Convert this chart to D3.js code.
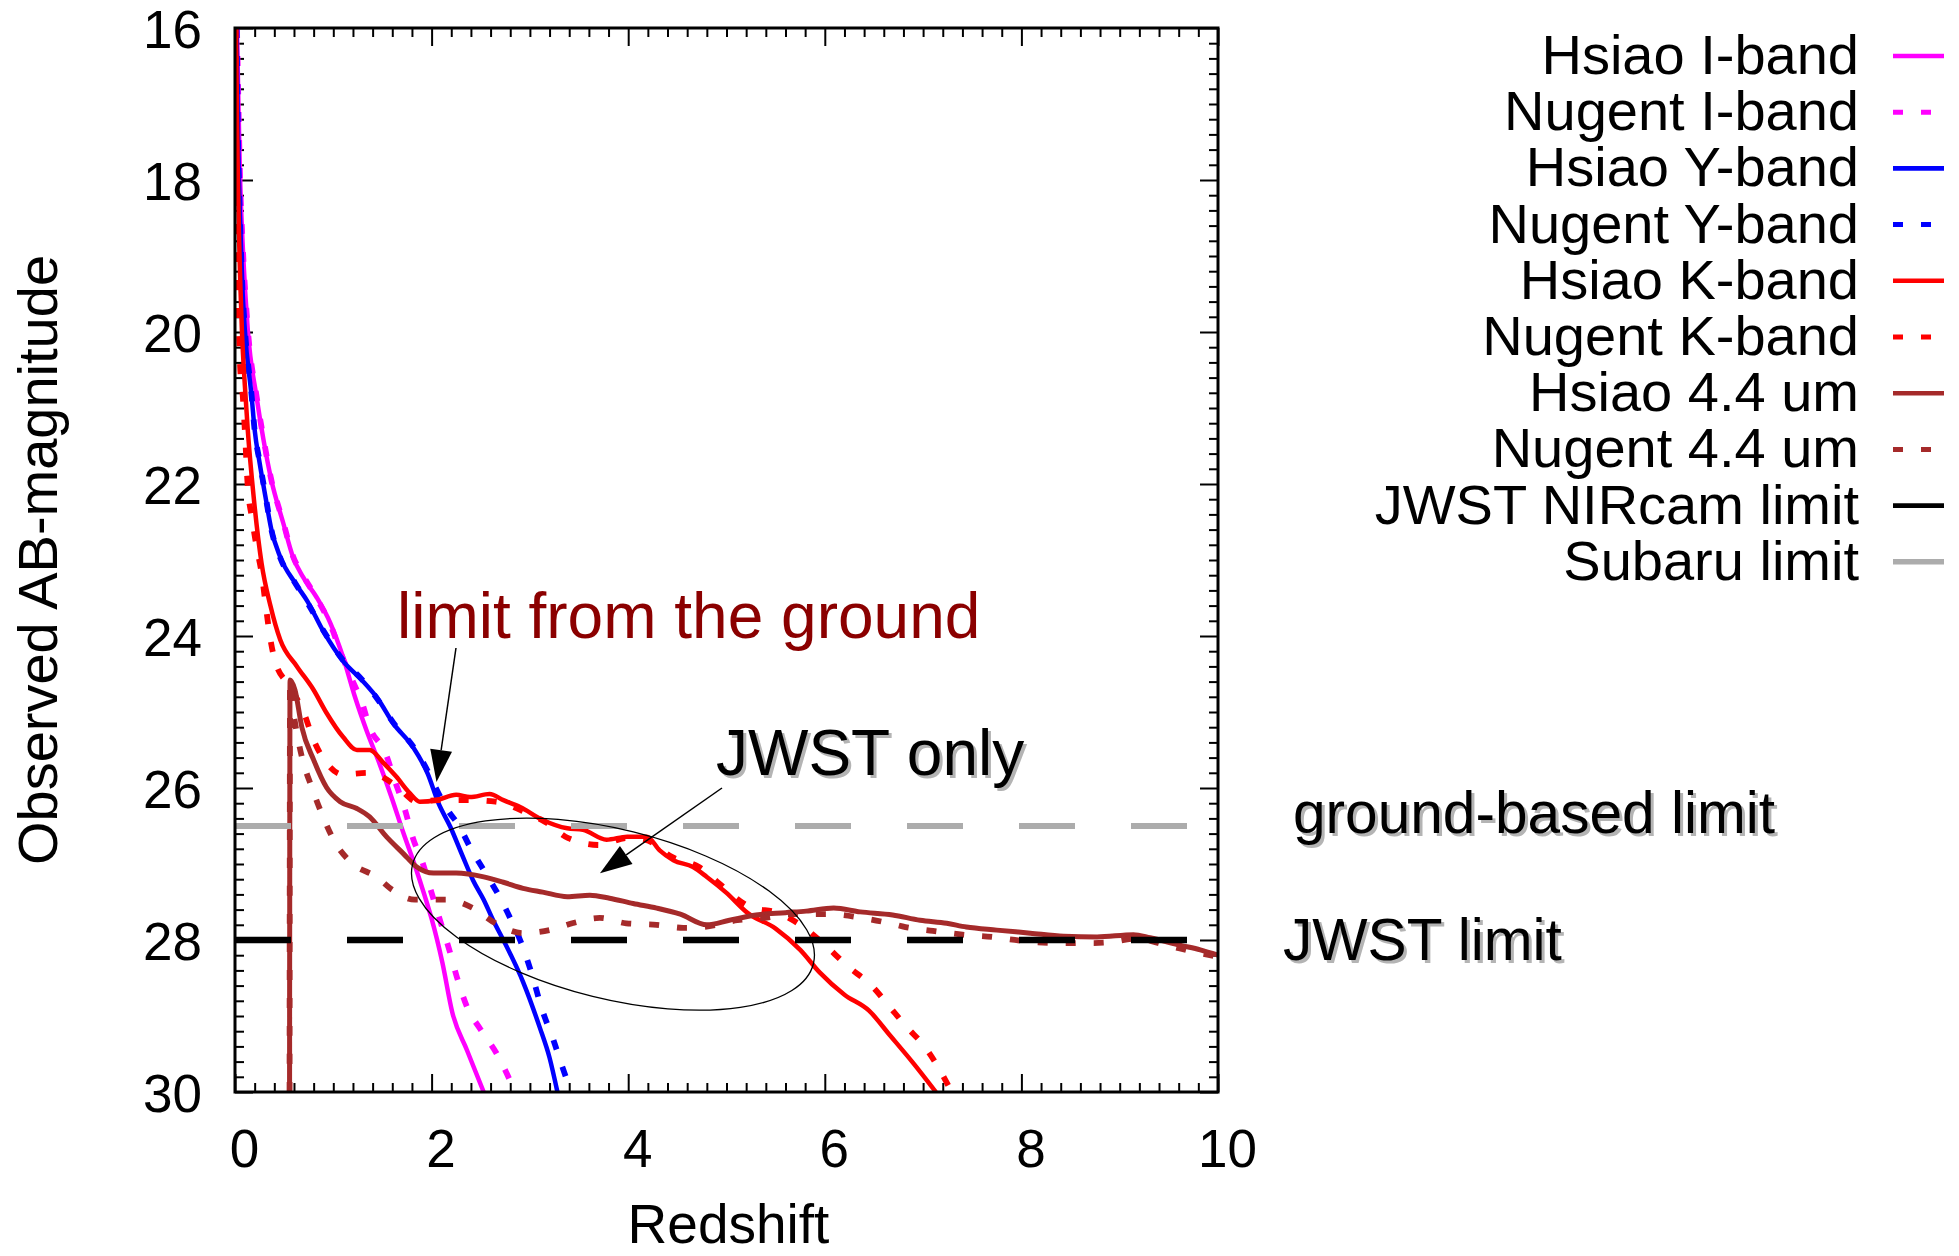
<!DOCTYPE html>
<html>
<head>
<meta charset="utf-8">
<script src="https://cdn.jsdelivr.net/npm/d3@7"></script>
<style>
  body { margin: 0; background: #fff; }
  svg { display: block; }
  text { font-family: "Liberation Sans", Arial, Helvetica, sans-serif; }
</style>
</head>
<body>
<svg id="chart" width="1959" height="1256"></svg>
<script>
// ---- Light curves: [redshift, observed AB magnitude] ----
const hsiaoI = [[0.02,16.0],[0.035,17.0],[0.05,17.9],[0.08,18.9],[0.13,19.97],[0.22,20.86],[0.29,21.42],[0.37,21.95],[0.49,22.51],[0.59,22.96],[0.69,23.22],[0.83,23.49],[0.97,23.83],[1.1,24.28],[1.22,24.8],[1.34,25.25],[1.47,25.68],[1.6,26.15],[1.71,26.58],[1.83,27.02],[1.93,27.42],[2.0,27.72],[2.11,28.3],[2.21,28.95],[2.36,29.45],[2.53,30.0]];
const nugentI = [[0.02,16.0],[0.035,17.0],[0.05,17.9],[0.08,18.9],[0.13,19.95],[0.22,20.85],[0.29,21.4],[0.37,21.95],[0.49,22.5],[0.59,22.95],[0.69,23.2],[0.83,23.5],[0.97,23.85],[1.1,24.3],[1.2,24.6],[1.29,24.87],[1.37,25.2],[1.53,25.54],[1.63,25.92],[1.73,26.29],[1.81,26.66],[1.91,26.99],[2.0,27.38],[2.1,27.8],[2.18,28.13],[2.26,28.5],[2.36,28.88],[2.5,29.18],[2.66,29.49],[2.85,30.0]];
const hsiaoY = [[0.016,16.0],[0.03,17.35],[0.05,18.45],[0.075,19.4],[0.1,19.97],[0.17,20.86],[0.2,21.29],[0.25,21.72],[0.31,22.17],[0.37,22.6],[0.46,22.96],[0.61,23.3],[0.74,23.55],[0.9,23.94],[1.1,24.33],[1.29,24.58],[1.46,24.84],[1.61,25.15],[1.81,25.46],[1.96,25.81],[2.07,26.2],[2.19,26.51],[2.32,26.91],[2.42,27.21],[2.53,27.47],[2.63,27.75],[2.73,28.0],[2.93,28.55],[3.1,29.15],[3.2,29.55],[3.28,30.0]];
const nugentY = [[0.016,16.0],[0.03,17.35],[0.05,18.45],[0.075,19.4],[0.1,19.95],[0.17,20.85],[0.2,21.3],[0.25,21.7],[0.31,22.15],[0.37,22.6],[0.46,22.97],[0.61,23.3],[0.74,23.57],[0.9,23.93],[1.1,24.32],[1.29,24.57],[1.46,24.85],[1.61,25.14],[1.81,25.45],[1.95,25.75],[2.07,26.07],[2.17,26.3],[2.28,26.5],[2.4,26.8],[2.53,27.08],[2.69,27.43],[2.81,27.74],[2.9,28.0],[3.02,28.45],[3.12,28.9],[3.24,29.32],[3.33,29.67],[3.42,30.0]];
const hsiaoK = [[0.011,16.0],[0.02,17.2],[0.03,18.0],[0.04,18.7],[0.055,19.4],[0.07,19.97],[0.1,20.7],[0.13,21.29],[0.19,22.17],[0.27,23.04],[0.36,23.6],[0.46,24.05],[0.63,24.4],[0.8,24.71],[0.93,25.01],[1.1,25.33],[1.24,25.5],[1.37,25.5],[1.51,25.67],[1.64,25.85],[1.78,26.07],[1.88,26.18],[2.05,26.16],[2.25,26.09],[2.39,26.12],[2.59,26.08],[2.73,26.16],[2.9,26.25],[3.13,26.42],[3.38,26.53],[3.54,26.55],[3.78,26.68],[3.99,26.64],[4.19,26.64],[4.32,26.82],[4.46,26.95],[4.66,27.04],[4.8,27.17],[5.0,27.38],[5.21,27.64],[5.5,27.85],[5.75,28.13],[5.95,28.43],[6.2,28.72],[6.45,28.93],[6.66,29.25],[6.9,29.62],[7.13,30.0]];
const nugentK = [[0.007,16.0],[0.01,16.9],[0.02,18.4],[0.03,19.3],[0.05,20.4],[0.08,20.86],[0.1,21.29],[0.13,22.04],[0.17,22.43],[0.22,22.83],[0.27,23.17],[0.31,23.57],[0.35,23.96],[0.41,24.34],[0.55,24.65],[0.7,25.01],[0.8,25.37],[0.95,25.7],[1.09,25.82],[1.36,25.8],[1.64,25.97],[1.85,26.18],[2.07,26.16],[2.36,26.16],[2.65,26.18],[2.97,26.33],[3.16,26.45],[3.39,26.66],[3.71,26.75],[3.98,26.66],[4.17,26.68],[4.45,26.91],[4.72,27.04],[4.92,27.25],[5.23,27.56],[5.54,27.65],[5.75,27.8],[5.98,28.04],[6.22,28.33],[6.49,28.62],[6.66,28.88],[6.83,29.14],[7.02,29.41],[7.17,29.71],[7.29,30.0]];
const hsiao44 = [[0.555,30.0],[0.56,24.58],[0.61,24.71],[0.68,25.2],[0.8,25.63],[0.93,25.99],[1.07,26.18],[1.24,26.27],[1.37,26.38],[1.54,26.64],[1.71,26.86],[1.85,27.04],[2.02,27.12],[2.25,27.12],[2.53,27.17],[2.73,27.24],[2.93,27.32],[3.13,27.37],[3.38,27.43],[3.61,27.41],[3.81,27.45],[4.05,27.52],[4.29,27.58],[4.53,27.66],[4.8,27.8],[5.03,27.74],[5.3,27.67],[5.6,27.64],[5.81,27.62],[6.09,27.58],[6.36,27.63],[6.69,27.67],[6.97,27.74],[7.24,27.78],[7.44,27.83],[7.75,27.87],[8.09,27.91],[8.43,27.95],[8.77,27.96],[9.14,27.93],[9.31,27.97],[9.62,28.07],[9.82,28.13],[10.0,28.2]];
const nugent44 = [[0.555,30.0],[0.56,24.6],[0.6,25.05],[0.64,25.35],[0.68,25.59],[0.78,25.99],[0.88,26.33],[1.02,26.72],[1.19,26.99],[1.44,27.17],[1.6,27.34],[1.83,27.47],[2.15,27.47],[2.42,27.58],[2.65,27.78],[2.93,27.91],[3.2,27.87],[3.43,27.78],[3.71,27.71],[3.98,27.78],[4.29,27.8],[4.56,27.84],[4.76,27.83],[5.11,27.74],[5.38,27.71],[5.66,27.66],[6.07,27.66],[6.38,27.71],[6.66,27.78],[6.82,27.83],[7.1,27.88],[7.4,27.93],[7.71,27.96],[7.88,27.99],[8.16,28.03],[8.44,28.04],[8.73,28.04],[8.9,28.03],[9.17,27.98],[9.48,28.07],[9.77,28.16],[10.0,28.22]];

// ---- Detection limits (AB magnitude) ----
const jwstLimit = 28.0;
const subaruLimit = 26.5;

// ---- Axis ticks ----
const xTicks = [0, 2, 4, 6, 8, 10];
const yTicks = [16, 18, 20, 22, 24, 26, 28, 30];

// ---- Legend labels ----
const legendLabels = ["Hsiao I-band", "Nugent I-band", "Hsiao Y-band", "Nugent Y-band",
  "Hsiao K-band", "Nugent K-band", "Hsiao 4.4 um", "Nugent 4.4 um",
  "JWST NIRcam limit", "Subaru limit"];

// ---- Layout ----
const plot = { left: 235, right: 1218, top: 28, bottom: 1092 };
const svg = d3.select("#chart");
svg.append("rect").attr("width", 1959).attr("height", 1256).attr("fill", "#fff");

const x = d3.scaleLinear().domain([0, 10]).range([plot.left, plot.right]);
const y = d3.scaleLinear().domain([16, 30]).range([plot.top, plot.bottom]);

const SOLID_W = 4.5, DOT_W = 5.8, DOT_DASH = "10,18";

const series = [
  { name: legendLabels[0], data: hsiaoI,   color: "#ff00ff", dash: null },
  { name: legendLabels[1], data: nugentI,  color: "#ff00ff", dash: DOT_DASH },
  { name: legendLabels[2], data: hsiaoY,   color: "#0000ff", dash: null },
  { name: legendLabels[3], data: nugentY,  color: "#0000ff", dash: DOT_DASH },
  { name: legendLabels[4], data: hsiaoK,   color: "#ff0000", dash: null },
  { name: legendLabels[5], data: nugentK,  color: "#ff0000", dash: DOT_DASH },
  { name: legendLabels[6], data: hsiao44,  color: "#a52a2a", dash: null, soft: true, width: 5 },
  { name: legendLabels[7], data: nugent44, color: "#a52a2a", dash: DOT_DASH, soft: true }
];

const defs = svg.append("defs");
defs.append("clipPath").attr("id", "plot-clip")
  .append("rect")
  .attr("x", plot.left).attr("y", plot.top)
  .attr("width", plot.right - plot.left).attr("height", plot.bottom - plot.top);
defs.append("filter").attr("id", "soft").attr("x", "-5%").attr("y", "-5%").attr("width", "110%").attr("height", "110%")
  .append("feGaussianBlur").attr("stdDeviation", 0.6);

// ---- Ticks (mirrored on all four borders, pointing inward) ----
const minorX = d3.range(0, 10.0001, 0.2).filter(v => Math.abs(v / 2 - Math.round(v / 2)) > 1e-6);
const minorY = d3.range(16, 30.0001, 0.2).filter(v => Math.abs(v / 2 - Math.round(v / 2)) > 1e-6);

function styleAxis(g, fs) {
  g.select(".domain").remove();
  g.selectAll("line").attr("stroke", "#000").attr("stroke-width", 2);
  g.selectAll("text").attr("font-size", fs).attr("fill", "#000")
    .attr("font-family", "'Liberation Sans', Arial, sans-serif");
}

// bottom
svg.append("g").attr("transform", `translate(0,${plot.bottom})`)
  .call(d3.axisBottom(x).tickValues(minorX).tickSizeInner(-9).tickSizeOuter(0).tickFormat(""))
  .call(g => styleAxis(g, 0));
svg.append("g").attr("transform", `translate(0,${plot.bottom})`)
  .call(d3.axisBottom(x).tickValues(xTicks).tickSizeInner(-18).tickSizeOuter(0).tickPadding(37).tickFormat(d3.format("d")))
  .call(g => styleAxis(g, 53))
  .call(g => g.selectAll("text").attr("dx", 9));
// top
svg.append("g").attr("transform", `translate(0,${plot.top})`)
  .call(d3.axisTop(x).tickValues(minorX).tickSizeInner(-9).tickSizeOuter(0).tickFormat(""))
  .call(g => styleAxis(g, 0));
svg.append("g").attr("transform", `translate(0,${plot.top})`)
  .call(d3.axisTop(x).tickValues(xTicks).tickSizeInner(-18).tickSizeOuter(0).tickFormat(""))
  .call(g => styleAxis(g, 0));
// left
svg.append("g").attr("transform", `translate(${plot.left},0)`)
  .call(d3.axisLeft(y).tickValues(minorY).tickSizeInner(-9).tickSizeOuter(0).tickFormat(""))
  .call(g => styleAxis(g, 0));
svg.append("g").attr("transform", `translate(${plot.left},0)`)
  .call(d3.axisLeft(y).tickValues(yTicks).tickSizeInner(-18).tickSizeOuter(0).tickPadding(33).tickFormat(d3.format("d")))
  .call(g => styleAxis(g, 53))
  .call(g => g.selectAll("text").attr("dy", "0.36em"));
// right
svg.append("g").attr("transform", `translate(${plot.right},0)`)
  .call(d3.axisRight(y).tickValues(minorY).tickSizeInner(-9).tickSizeOuter(0).tickFormat(""))
  .call(g => styleAxis(g, 0));
svg.append("g").attr("transform", `translate(${plot.right},0)`)
  .call(d3.axisRight(y).tickValues(yTicks).tickSizeInner(-18).tickSizeOuter(0).tickFormat(""))
  .call(g => styleAxis(g, 0));

// ---- Curves ----
const line = d3.line().x(d => x(d[0])).y(d => y(d[1])).curve(d3.curveMonotoneX);
const curves = svg.append("g").attr("clip-path", "url(#plot-clip)");
series.forEach(s => {
  curves.append("path")
    .attr("d", line(s.data))
    .attr("fill", "none")
    .attr("stroke", s.color)
    .attr("stroke-width", s.width || (s.dash ? DOT_W : SOLID_W))
    .attr("stroke-dasharray", s.dash)
    .attr("stroke-linejoin", "round")
    .attr("filter", s.soft ? "url(#soft)" : null);
});

// ---- Limit lines ----
const limits = [
  { value: jwstLimit,   color: "#000000", width: 6.5 },
  { value: subaruLimit, color: "#acacac", width: 6 }
];
limits.forEach(l => {
  curves.append("line")
    .attr("x1", x(0)).attr("x2", x(10))
    .attr("y1", y(l.value)).attr("y2", y(l.value))
    .attr("stroke", l.color).attr("stroke-width", l.width)
    .attr("stroke-dasharray", "56,56");
});

// ---- Border ----
svg.append("rect")
  .attr("x", plot.left).attr("y", plot.top)
  .attr("width", plot.right - plot.left).attr("height", plot.bottom - plot.top)
  .attr("fill", "none").attr("stroke", "#000").attr("stroke-width", 3);

// ---- Axis titles ----
svg.append("text")
  .attr("x", (plot.left + plot.right) / 2 + 2).attr("y", 1243)
  .attr("text-anchor", "middle").attr("font-size", 55).text("Redshift");
svg.append("text")
  .attr("transform", `translate(57,${(plot.top + plot.bottom) / 2}) rotate(-90)`)
  .attr("text-anchor", "middle").attr("font-size", 56).text("Observed AB-magnitude");

// ---- Legend ----
const legendStyles = series.map(s => ({ color: s.color, dash: s.dash }))
  .concat([{ color: "#000000", dash: null }, { color: "#acacac", dash: null, wide: true }]);
const legend = svg.append("g");
legendLabels.forEach((label, i) => {
  const cy = 56 + i * 56.2;
  legend.append("text")
    .attr("x", 1859).attr("y", cy + 18)
    .attr("text-anchor", "end").attr("font-size", 56).text(label);
  const st = legendStyles[i];
  legend.append("line")
    .attr("x1", 1893).attr("x2", 1944).attr("y1", cy).attr("y2", cy)
    .attr("stroke", st.color)
    .attr("stroke-width", st.dash ? 5 : (st.wide ? 5.5 : 4.6))
    .attr("stroke-dasharray", st.dash);
});

// ---- Annotations ----
function shadowText(xPos, yPos, str, size) {
  svg.append("text").attr("x", xPos + 3).attr("y", yPos + 3)
    .attr("font-size", size).attr("fill", "#b4b4b4").text(str);
  svg.append("text").attr("x", xPos).attr("y", yPos)
    .attr("font-size", size).attr("fill", "#000").text(str);
}

svg.append("text")
  .attr("x", x(1.648)).attr("y", y(24.026))
  .attr("font-size", 64).attr("fill", "#8b0000").text("limit from the ground");
shadowText(x(4.893), y(25.83), "JWST only", 64);
shadowText(x(10.763), y(26.59), "ground-based limit", 58.6);
shadowText(x(10.661), y(28.26), "JWST limit", 58.6);

function arrow(from, to) {
  const x0 = x(from[0]), y0 = y(from[1]), x1 = x(to[0]), y1 = y(to[1]);
  const dx = x1 - x0, dy = y1 - y0, len = Math.hypot(dx, dy);
  const ux = dx / len, uy = dy / len;
  const headLen = 32, headHalf = 11;
  const bx = x1 - ux * headLen, by = y1 - uy * headLen;
  svg.append("line").attr("x1", x0).attr("y1", y0).attr("x2", bx).attr("y2", by)
    .attr("stroke", "#000").attr("stroke-width", 1.5);
  svg.append("polygon")
    .attr("points", [[x1, y1], [bx - uy * headHalf, by + ux * headHalf], [bx + uy * headHalf, by - ux * headHalf]]
      .map(p => p.join(",")).join(" "))
    .attr("fill", "#000");
}
arrow([2.248, 24.158], [2.05, 25.92]);
arrow([4.954, 26.0], [3.713, 27.122]);

// "JWST only" region outline
const ell = { cz: 3.845, cm: 27.66, rx: 206.5, ry: 84.7, angle: 13.9 };
svg.append("ellipse")
  .attr("cx", x(ell.cz)).attr("cy", y(ell.cm))
  .attr("rx", ell.rx).attr("ry", ell.ry)
  .attr("transform", `rotate(${ell.angle},${x(ell.cz)},${y(ell.cm)})`)
  .attr("fill", "none").attr("stroke", "#000").attr("stroke-width", 1.3);
</script>
</body>
</html>
